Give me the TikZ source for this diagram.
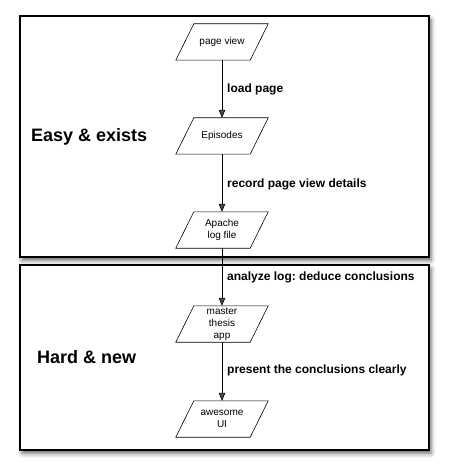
\documentclass[tikz,border=0pt]{standalone}
\usepackage{fontspec}
\setmainfont{Liberation Sans}
\usetikzlibrary{arrows.meta,shadows.blur}
\frenchspacing
\begin{document}
\begin{tikzpicture}[x=1pt,y=1pt,
  panel/.style={draw=black,line width=1.1pt,fill=white,
    blur shadow={shadow xshift=2pt,shadow yshift=-3.5pt,shadow blur radius=4.5pt,shadow opacity=60}},
  iobox/.style={minimum width=74pt,minimum height=36pt,inner sep=0pt,align=center,
    font=\fontsize{10}{12}\selectfont},
  ioline/.style={line width=0.6pt,line join=miter},
  flow/.style={-{Triangle[length=8pt,width=6.5pt]},line width=0.6pt},
  steplabel/.style={anchor=west,inner sep=0pt,font=\bfseries\fontsize{12}{14}\selectfont},
  zone/.style={anchor=west,inner sep=0pt,font=\bfseries\fontsize{18}{21}\selectfont}]
  \useasboundingbox (0,0) rectangle (449,-470);

  % the two zones
  \path[panel] (20,-16) rectangle (429,-257);
  \path[panel] (20,-265) rectangle (429,-450);

  % data and process boxes
  \node[iobox] (pv) at (222,-42)  {page view};
  \node[iobox] (ep) at (222,-136) {Episodes};
  \node[iobox] (ap) at (222,-230) {Apache\\log file};
  \node[iobox] (mt) at (222,-324) {master\\thesis\\app};
  \node[iobox] (ui) at (222,-419) {awesome\\UI};

  % parallelogram outlines around each box
  \foreach \n in {pv,ep,ap,mt,ui}
    \draw[ioline] ([xshift=9pt]\n.north west) -- ([xshift=9pt]\n.north east)
      -- ([xshift=-9pt]\n.south east) -- ([xshift=-9pt]\n.south west) -- cycle;

  % flow
  \draw[flow] (pv) -- (ep);
  \draw[flow] (ep) -- (ap);
  \draw[flow] (ap) -- (mt);
  \draw[flow] (mt) -- (ui);

  % step labels
  \node[steplabel] (l1) at (227,-89)  {load page};
  \node[steplabel] (l2) at (227,-184) {record page view details};
  \node[steplabel] (l3) at (227,-277) {analyze log: deduce conclusions};
  \node[steplabel] (l4) at (227,-370) {present the conclusions clearly};

  % zone titles
  \node[zone] (z1) at (31,-137) {Easy \& exists};
  \node[zone] (z2) at (37,-357) {Hard \& new};
\end{tikzpicture}
\end{document}
